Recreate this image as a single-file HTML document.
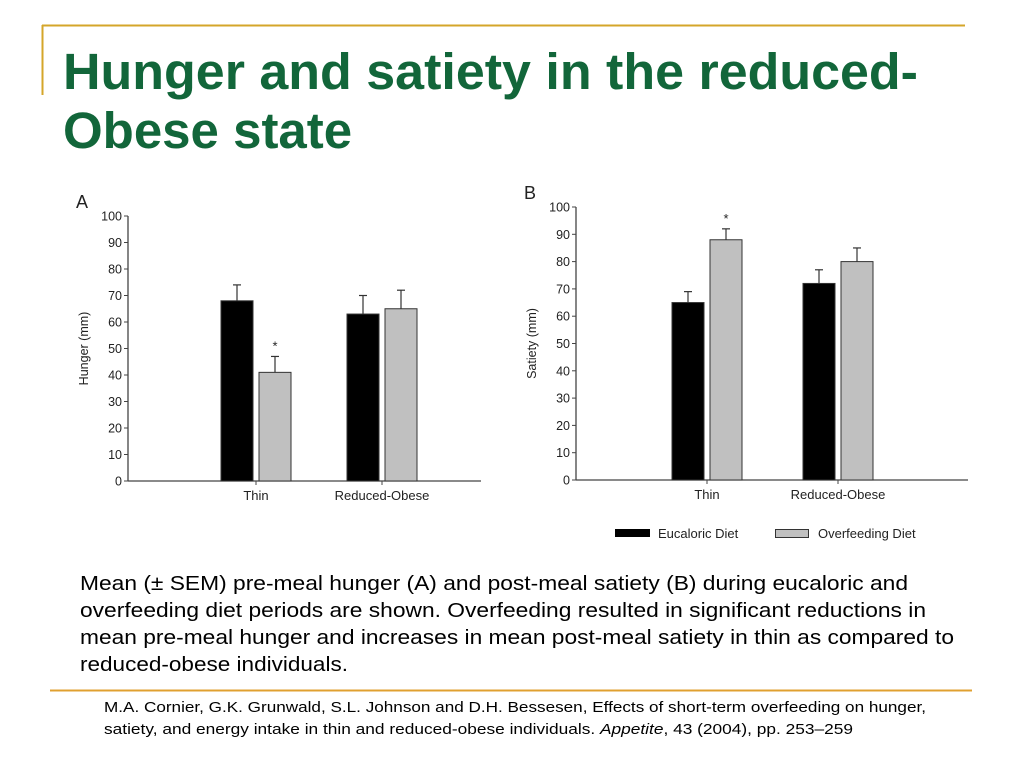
<!DOCTYPE html>
<html><head><meta charset="utf-8"><style>
body{margin:0;background:#fff;width:1024px;height:768px;overflow:hidden;font-family:"Liberation Sans",sans-serif}
svg{position:absolute;left:0;top:0}
</style></head><body>
<svg width="1024" height="768">
<line x1="42" y1="25.5" x2="965" y2="25.5" stroke="#d4a62a" stroke-width="2"/>
<line x1="42.5" y1="25" x2="42.5" y2="95" stroke="#d4a62a" stroke-width="2"/>
<text x="63" y="89" font-size="51" font-weight="bold" fill="#12663a" textLength="855" lengthAdjust="spacingAndGlyphs">Hunger and satiety in the reduced-</text>
<text x="63" y="148" font-size="51" font-weight="bold" fill="#12663a">Obese state</text>
<g id="chartA"></g>
<g id="chartB"></g>
<g font-size="13" fill="#222">
<rect x="615" y="529" width="35" height="8" fill="#000"/>
<text x="658" y="538">Eucaloric Diet</text>
<rect x="775.5" y="529.5" width="33" height="8" fill="#c0c0c0" stroke="#333"/>
<text x="818" y="538">Overfeeding Diet</text>
</g>
<g font-size="20.5" fill="#000">
<text x="80" y="590" textLength="828" lengthAdjust="spacingAndGlyphs">Mean (± SEM) pre-meal hunger (A) and post-meal satiety (B) during eucaloric and</text>
<text x="80" y="617" textLength="846" lengthAdjust="spacingAndGlyphs">overfeeding diet periods are shown. Overfeeding resulted in significant reductions in</text>
<text x="80" y="644" textLength="874" lengthAdjust="spacingAndGlyphs">mean pre-meal hunger and increases in mean post-meal satiety in thin as compared to</text>
<text x="80" y="671" textLength="268" lengthAdjust="spacingAndGlyphs">reduced-obese individuals.</text>
</g>
<line x1="50" y1="690.5" x2="972" y2="690.5" stroke="#e0a030" stroke-width="2"/>
<g font-size="14.5" fill="#000">
<text x="104" y="712" textLength="822" lengthAdjust="spacingAndGlyphs">M.A. Cornier, G.K. Grunwald, S.L. Johnson and D.H. Bessesen, Effects of short-term overfeeding on hunger,</text>
<text x="104" y="734" textLength="749" lengthAdjust="spacingAndGlyphs">satiety, and energy intake in thin and reduced-obese individuals. <tspan font-style="italic">Appetite</tspan>,  43  (2004), pp. 253–259</text>
</g>
</svg>
<script>
const categories=["Thin","Reduced-Obese"];
const hungerEu=[68,63];
const hungerOver=[41,65];
const hungerEuErr=[74,70];
const hungerOverErr=[47,72];
const satEu=[65,72];
const satOver=[88,80];
const satEuErr=[69,77];
const satOverErr=[92,85];
const yTicks=[0,10,20,30,40,50,60,70,80,90,100];
const NS="http://www.w3.org/2000/svg";
function mk(p,t,a){const e=document.createElementNS(NS,t);for(const k in a)e.setAttribute(k,a[k]);p.appendChild(e);return e;}
function draw(id,cfg,eu,ov,euE,ovE,star,title,letter){
 const g=document.getElementById(id);
 const y=v=>cfg.y0-(cfg.y0-cfg.y100)*v/100;
 let t=mk(g,'text',{x:cfg.ax-52,y:cfg.y100-8,'font-size':18,fill:'#222'});t.textContent=letter;
 
 
 let l=mk(g,'line',{x1:cfg.ax,y1:cfg.y100,x2:cfg.ax,y2:cfg.y0,stroke:'#444','stroke-width':1.3});
 
 
 l=mk(g,'line',{x1:cfg.ax,y1:cfg.y0,x2:cfg.xEnd,y2:cfg.y0,stroke:'#444','stroke-width':1.3});
 
 
 yTicks.forEach(v=>{
  const tk=mk(g,'line',{x1:cfg.ax-4,y1:y(v),x2:cfg.ax,y2:y(v),stroke:'#444'});
  
  
  const tx=mk(g,'text',{x:cfg.ax-6,y:y(v)+4.5,'font-size':12.5,'text-anchor':'end',fill:'#222'});tx.textContent=v;
  
  
 });
 const mid=(cfg.y0+cfg.y100)/2;
 const yt=mk(g,'text',{x:cfg.ax-40,y:mid,'font-size':12.5,'text-anchor':'middle',fill:'#222',transform:`rotate(-90 ${cfg.ax-40} ${mid})`});yt.textContent=title;
 
 
 categories.forEach((c,i)=>{
  const cx=cfg.cx[i];
  const tk=mk(g,'line',{x1:cx,y1:cfg.y0,x2:cx,y2:cfg.y0+4,stroke:'#444'});
  
  
  const tx=mk(g,'text',{x:cx,y:cfg.y0+19,'font-size':13,'text-anchor':'middle',fill:'#222'});tx.textContent=c;
  
  
  [[eu,euE,-1,'#000','eucaloric'],[ov,ovE,1,'#c0c0c0','overfeeding']].forEach(([vals,errs,s,col,nm])=>{
   const x0=s<0?cx-35:cx+3, w=32;
   const b=mk(g,'rect',{x:x0,y:y(vals[i]),width:w,height:y(0)-y(vals[i]),fill:col,stroke:'#333','stroke-width':1});
   
   
   const ex=x0+w/2;
   const e1=mk(g,'line',{x1:ex,y1:y(vals[i]),x2:ex,y2:y(errs[i]),stroke:'#333','stroke-width':1.2});
   
   
   const e2=mk(g,'line',{x1:ex-4,y1:y(errs[i]),x2:ex+4,y2:y(errs[i]),stroke:'#333','stroke-width':1.2});
   
   
   if(s>0&&star[i]){const st=mk(g,'text',{x:ex,y:y(errs[i])-6,'font-size':13,'text-anchor':'middle',fill:'#222'});st.textContent='*';
    
    }
  });
 });
}
draw('chartA',{ax:128,y0:481,y100:216,xEnd:481,cx:[256,382]},hungerEu,hungerOver,hungerEuErr,hungerOverErr,[true,false],'Hunger (mm)','A');
draw('chartB',{ax:576,y0:480,y100:207,xEnd:968,cx:[707,838]},satEu,satOver,satEuErr,satOverErr,[true,false],'Satiety (mm)','B');
</script>
</body></html>
